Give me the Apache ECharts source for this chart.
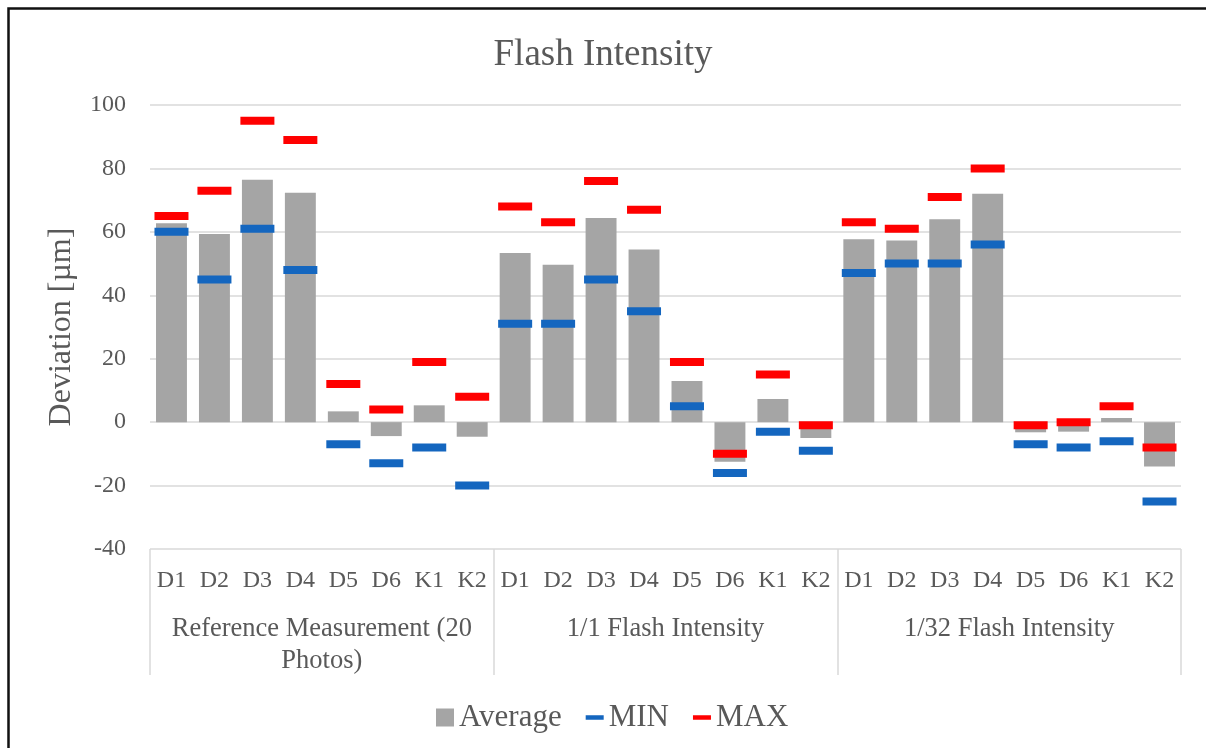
<!DOCTYPE html>
<html>
<head>
<meta charset="utf-8">
<script src="https://cdn.jsdelivr.net/npm/echarts@6/dist/echarts.min.js"></script>
<style>
html,body{margin:0;padding:0;background:#fff;}
#chart{width:1206px;height:748px;}
</style>
</head>
<body>
<div id="chart"></div>
<script>
const subLabels = ['D1','D2','D3','D4','D5','D6','K1','K2'];
const groups = ['Reference Measurement (20 Photos)','1/1 Flash Intensity','1/32 Flash Intensity'];
const yTicks = [-40,-20,0,20,40,60,80,100];

const avgRef = [62.7, 59.3, 76.4, 72.3, 3.4, -4.4, 5.3, -4.6];
const avg11  = [53.3, 49.6, 64.4, 54.4, 13.0, -12.5, 7.3, -5.0];
const avg132 = [57.7, 57.3, 64.0, 72.0, -3.2, -3.0, 1.3, -14.0];

const minRef = [60, 45, 61, 48, -7, -13, -8, -20];
const min11  = [31, 31, 45, 35, 5, -16, -3, -9];
const min132 = [47, 50, 50, 56, -7, -8, -6, -25];

const maxRef = [65, 73, 95, 89, 12, 4, 19, 8];
const max11  = [68, 63, 76, 67, 19, -10, 15, -1];
const max132 = [63, 61, 71, 80, -1, 0, 5, -8];

const categories = [].concat(subLabels, subLabels, subLabels);
const avgData = [].concat(avgRef, avg11, avg132);
const minData = [].concat(minRef, min11, min132);
const maxData = [].concat(maxRef, max11, max132);

const FONT = "'Times New Roman','Liberation Serif',serif";
const TXT = '#595959';
const GRID = '#D9D9D9';

const dashIcon = 'path://M0,0L0.01,0L0.01,0.01Z M0,7.5H20V12.5H0Z M19.99,19.99L20,19.99L20,20Z';

const chart = echarts.init(document.getElementById('chart'), null, {renderer:'canvas'});
chart.setOption({
  backgroundColor:'#fff',
  animation:false,
  textStyle:{fontFamily:FONT},
  title:{
    text:'Flash Intensity', left:'center', top:32,
    textStyle:{fontFamily:FONT, fontSize:37, fontWeight:'normal', color:TXT}
  },
  graphic:[{
    type:'polyline', silent:true,
    shape:{points:[[8.5,760],[8.5,8.5],[1220,8.5]]},
    style:{fill:null, stroke:'#111', lineWidth:2.5}
  }],
  legend:{
    top:697, left:431,
    itemWidth:18, itemHeight:18, itemGap:24,
    itemStyle:{borderWidth:0},
    textStyle:{fontFamily:FONT, fontSize:31, color:TXT},
    data:[
      {name:'Average', icon:'rect'},
      {name:'MIN', icon:dashIcon},
      {name:'MAX', icon:dashIcon}
    ]
  },
  grid:{left:150, right:25, top:105, bottom:199, containLabel:false},
  xAxis:[{
    type:'category', data:categories, position:'bottom',
    axisLine:{show:false, onZero:false},
    axisTick:{show:false},
    axisLabel:{interval:0, margin:20, fontFamily:FONT, fontSize:24, color:TXT},
    splitLine:{show:false}
  },{
    type:'category', data:groups, position:'bottom',
    axisLine:{show:false, onZero:false},
    axisTick:{show:true, interval:0, length:126, lineStyle:{color:GRID, width:1.5}},
    axisLabel:{
      interval:0, margin:64, fontFamily:FONT, fontSize:26.5, color:TXT, lineHeight:32,
      formatter:function(v){ return v.replace('(20 ', '(20\n'); }
    },
    splitLine:{show:false}
  }],
  yAxis:{
    type:'value', min:yTicks[0], max:yTicks[yTicks.length-1], interval:20,
    name:'Deviation [µm]', nameLocation:'middle', nameGap:72,
    nameTextStyle:{fontFamily:FONT, fontSize:32, color:TXT},
    axisLine:{show:false}, axisTick:{show:false},
    axisLabel:{margin:24, fontFamily:FONT, fontSize:24, color:TXT},
    splitLine:{lineStyle:{color:GRID, width:1.5}}
  },
  series:[{
    name:'Average', type:'bar', xAxisIndex:0, data:avgData,
    barWidth:'72%',
    itemStyle:{color:'#A5A5A5'}
  },{
    name:'MIN', type:'scatter', xAxisIndex:0, data:minData,
    symbol:'rect', symbolSize:[34,8],
    itemStyle:{color:'#1466BF', opacity:1}
  },{
    name:'MAX', type:'scatter', xAxisIndex:0, data:maxData,
    symbol:'rect', symbolSize:[34,8],
    itemStyle:{color:'#FF0000', opacity:1}
  }]
});
</script>
</body>
</html>
